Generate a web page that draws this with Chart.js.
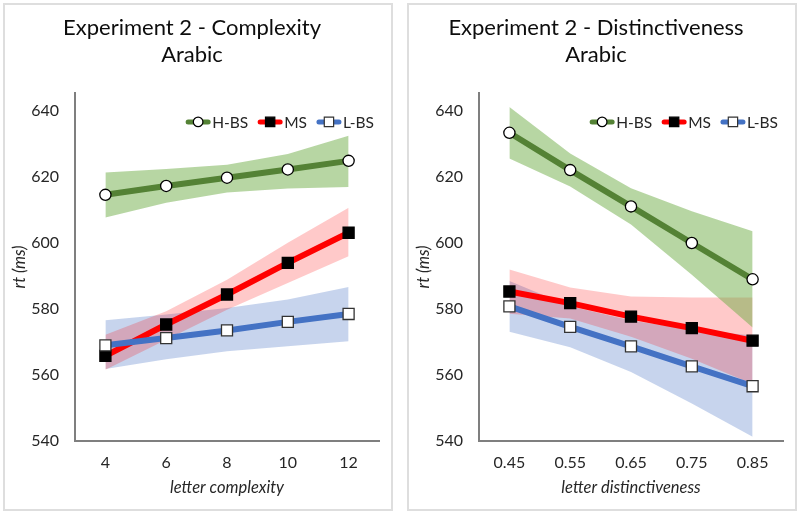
<!DOCTYPE html>
<html>
<head>
<meta charset="utf-8">
<script src="https://cdn.jsdelivr.net/npm/chart.js@4.4.1/dist/chart.umd.min.js"></script>
<style>
  html, body { margin: 0; padding: 0; background: #fff; }
  body { width: 800px; height: 514px; position: relative; overflow: hidden; }
  .panel { position: absolute; top: 3px; width: 390px; height: 508px; border: 2px solid #dedede; box-sizing: border-box; }
  #panelLeft { left: 3px; }
  #panelRight { left: 407px; }
  .panel canvas { position: absolute; left: 0; top: 0; }
</style>
</head>
<body>
<div class="panel" id="panelLeft"><canvas id="complexityChart" width="386" height="503"></canvas></div>
<div class="panel" id="panelRight"><canvas id="distinctChart" width="386" height="503"></canvas></div>

<script>
  // ========== DATA ==========
  const yTicks = [540, 560, 580, 600, 620, 640];
  const seriesNames = ['H-BS', 'MS', 'L-BS'];

  // Experiment 2 - Complexity
  const complexityLabels = ['4', '6', '8', '10', '12'];
  const cxHighBS      = [614.6, 617.3, 619.8, 622.3, 624.9];
  const cxHighBSUpper = [621.4, 622.4, 623.7, 627.0, 632.5];
  const cxHighBSLower = [607.7, 612.2, 615.3, 616.5, 617.0];
  const cxMS          = [565.8, 575.3, 584.4, 594.0, 603.1];
  const cxMSUpper     = [572.2, 579.3, 588.9, 600.1, 610.7];
  const cxMSLower     = [561.6, 570.7, 579.8, 587.9, 596.0];
  const cxLowBS       = [569.0, 571.2, 573.5, 576.1, 578.5];
  const cxLowBSUpper  = [576.6, 578.3, 580.3, 582.9, 586.7];
  const cxLowBSLower  = [561.8, 564.8, 567.2, 568.7, 570.2];

  // Experiment 2 - Distinctiveness
  const distLabels = ['0.45', '0.55', '0.65', '0.75', '0.85'];
  const dsHighBS      = [633.4, 622.1, 611.1, 600.0, 589.0];
  const dsHighBSUpper = [641.2, 627.1, 616.6, 609.6, 603.6];
  const dsHighBSLower = [625.6, 617.1, 605.6, 590.4, 574.4];
  const dsMS          = [585.3, 581.8, 577.7, 574.2, 570.4];
  const dsMSUpper     = [592.0, 586.5, 583.8, 583.5, 583.5];
  const dsMSLower     = [578.6, 577.1, 571.6, 564.9, 557.3];
  const dsLowBS       = [580.8, 574.6, 568.7, 562.6, 556.6];
  const dsLowBSUpper  = [588.5, 580.8, 576.5, 573.8, 572.0];
  const dsLowBSLower  = [573.1, 568.4, 560.9, 551.4, 541.3];

  // ========== STYLES ==========
  const seriesStyles = [
    { line: '#548235', band: 'rgba(112,173,71,0.5)', pointStyle: 'circle', radius: 5.6, fill: '#ffffff', stroke: '#000000', legendRadius: 4.8, order: 3 },
    { line: '#ff0000', band: 'rgba(255,0,0,0.21)',   pointStyle: 'rect',   radius: 7.8, fill: '#000000', stroke: '#000000', legendRadius: 6.6, order: 2 },
    { line: '#4472c4', band: 'rgba(68,114,196,0.3)', pointStyle: 'rect',   radius: 7.8, fill: '#ffffff', stroke: '#333333', legendRadius: 6.6, order: 1 }
  ];
  const fontFamily = 'Lato, "Liberation Sans", sans-serif';
  const textColor = '#262626';
  const axisColor = '#7f7f7f';

  // legend drawn as line + marker, right aligned at the top of the plot
  const lineLegend = {
    id: 'lineLegend',
    afterDraw(chart) {
      const ctx = chart.ctx;
      const area = chart.chartArea;
      const items = chart.data.datasets.filter(d => d.isSeries);
      const segW = 26, gapText = 1, gapItem = 9;
      ctx.save();
      ctx.font = '15.5px ' + fontFamily;
      let total = 0;
      items.forEach(d => { total += segW + gapText + ctx.measureText(d.label).width; });
      total += gapItem * (items.length - 1);
      let x = area.right - 5 - total;
      const y = area.top + 29;
      items.forEach(d => {
        ctx.strokeStyle = d.borderColor;
        ctx.lineWidth = 5;
        ctx.lineCap = 'round';
        ctx.beginPath();
        ctx.moveTo(x + 3, y);
        ctx.lineTo(x + segW - 3, y);
        ctx.stroke();
        ctx.fillStyle = d.pointBackgroundColor;
        ctx.strokeStyle = d.pointBorderColor;
        ctx.lineWidth = 1.2;
        Chart.helpers.drawPoint(ctx, { pointStyle: d.pointStyle, rotation: 0, borderWidth: 1.2, radius: d.legendRadius }, x + segW / 2, y);
        ctx.fillStyle = textColor;
        ctx.textBaseline = 'middle';
        ctx.textAlign = 'left';
        ctx.fillText(d.label, x + segW + gapText, y + 1);
        x += segW + gapText + ctx.measureText(d.label).width + gapItem;
      });
      ctx.restore();
    }
  };

  function buildDatasets(means, uppers, lowers) {
    const bands = [];
    const lines = [];
    means.forEach((mean, i) => {
      const st = seriesStyles[i];
      bands.push({ label: seriesNames[i] + ' upper', data: uppers[i], fill: '+1', backgroundColor: st.band, borderWidth: 0, pointRadius: 0, order: 10 });
      bands.push({ label: seriesNames[i] + ' lower', data: lowers[i], fill: false, borderWidth: 0, pointRadius: 0, order: 10 });
      lines.push({
        label: seriesNames[i], data: mean, isSeries: true, fill: false,
        borderColor: st.line, borderWidth: 6, tension: 0,
        pointStyle: st.pointStyle, pointRadius: st.radius,
        pointBackgroundColor: st.fill, pointBorderColor: st.stroke, pointBorderWidth: 1.3,
        legendRadius: st.legendRadius, order: st.order, clip: false
      });
    });
    return bands.concat(lines);
  }

  function makeChart(canvasId, titleLines, xTitle, labels, datasets) {
    const ctx = document.getElementById(canvasId).getContext('2d');
    return new Chart(ctx, {
      type: 'line',
      data: { labels: labels, datasets: datasets },
      plugins: [lineLegend],
      options: {
        responsive: false,
        animation: false,
        layout: { padding: { top: 0, right: 12, bottom: 0, left: 0 } },
        plugins: {
          legend: { display: false },
          tooltip: { enabled: false },
          title: {
            display: true, text: titleLines, color: '#0d0d0d',
            font: { family: fontFamily, size: 22, weight: 'normal', lineHeight: 1.22 },
            padding: { top: 9.6, bottom: 24.6 }
          }
        },
        scales: {
          x: {
            type: 'category', offset: true,
            grid: { display: false, drawTicks: false },
            border: { display: true, color: axisColor, width: 2 },
            ticks: { color: textColor, font: { family: fontFamily, size: 16 }, padding: 12 },
            title: { display: true, text: xTitle, color: textColor, font: { family: fontFamily, size: 16.5, style: 'italic' }, padding: { top: 0, bottom: 10 } },
            afterFit: s => { s.height = 67; }
          },
          y: {
            min: 540, max: 645.5,
            grid: { display: false, drawTicks: false },
            border: { display: true, color: axisColor, width: 2 },
            ticks: { color: textColor, font: { family: fontFamily, size: 16 }, padding: 16 },
            afterBuildTicks: s => { s.ticks = yTicks.map(v => ({ value: v })); },
            title: { display: true, text: 'rt (ms)', color: textColor, font: { family: fontFamily, size: 16.5, style: 'italic' }, padding: { top: 5, bottom: 0 } },
            afterFit: s => { s.width = 70; }
          }
        }
      }
    });
  }

  document.addEventListener('DOMContentLoaded', () => {
    makeChart('complexityChart', ['Experiment 2 - Complexity', 'Arabic'], 'letter complexity', complexityLabels,
      buildDatasets([cxHighBS, cxMS, cxLowBS], [cxHighBSUpper, cxMSUpper, cxLowBSUpper], [cxHighBSLower, cxMSLower, cxLowBSLower]));
    makeChart('distinctChart', ['Experiment 2 - Distinctiveness', 'Arabic'], 'letter distinctiveness', distLabels,
      buildDatasets([dsHighBS, dsMS, dsLowBS], [dsHighBSUpper, dsMSUpper, dsLowBSUpper], [dsHighBSLower, dsMSLower, dsLowBSLower]));
  });
</script>
</body>
</html>
